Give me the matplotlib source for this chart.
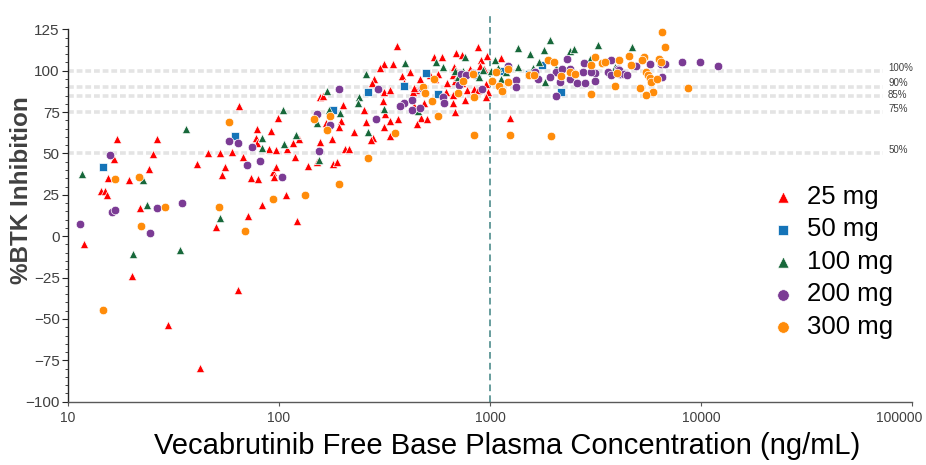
import matplotlib
matplotlib.use("Agg")
import matplotlib.pyplot as plt
from matplotlib.ticker import FixedLocator, FixedFormatter
import matplotlib.transforms as mtransforms

plt.rcParams['font.family'] = ['Liberation Sans', 'DejaVu Sans']

# ---------------- data (concentration ng/mL, %BTK inhibition) ----------------
conc_25 = [17.1, 26.3, 16.6, 25.2, 15.5, 14.3, 15.0, 15.3, 19.5, 24.3, 22.0, 11.9,
           40.8, 46.1, 52.7, 64.4, 59.7, 55.3, 53.9, 67.8, 50.5, 71.1, 83.5, 78.8,
           77.6, 78.8, 91.2, 89.8, 73.5, 79.6, 93.8, 94.4, 20.1, 29.8, 63.7, 42.1,
           122, 108, 119, 124, 116, 109, 97.3, 98.7, 96.6, 137, 152, 157, 157,
           361, 313, 301, 282, 277, 316, 336, 310, 161, 202, 253, 167, 197, 192,
           227, 257, 318, 334, 367, 316, 336, 280, 272, 178, 181, 189, 205, 214,
           877, 543, 591, 689, 733, 902, 963, 1122, 347, 417, 672, 800, 898, 938,
           382, 520, 564, 550, 667, 392, 464, 627, 686, 733, 780, 838, 879, 962,
           977, 952, 445, 430, 437, 617, 668, 665, 764, 487, 435, 686, 469, 500,
           450, 1250]
inh_25 = [58.6, 58.6, 46.9, 49.5, 35.4, 27.1, 27.1, 25.1, 33.8, 40.4, 17.2, -4.5,
          43.4, 50.1, 50.1, 78.5, 51.1, 42.0, 37.0, 47.7, 5.3, 12.0, 19.1, 65.0,
          59.4, 56.3, 63.8, 52.9, 35.4, 34.5, 38.8, 35.8, -24.3, -53.8, -32.8, -79.6,
          9.1, 25.1, 47.9, 58.7, 56.6, 52.5, 52.3, 71.7, 41.8, 42.4, 45.1, 56.9, 84.2,
          115.0, 103.9, 101.7, 94.7, 92.6, 87.2, 88.6, 81.7, 85.0, 79.3, 76.5, 68.4,
          69.6, 66.2, 62.8, 69.3, 73.7, 69.5, 71.1, 66.0, 60.8, 59.4, 58.0, 58.6,
          43.9, 44.6, 52.7, 52.7,
          114.4, 108.4, 108.4, 110.8, 109.4, 106.4, 108.8, 107.4, 103.8, 99.3, 102.3,
          101.1, 102.7, 101.1, 96.7, 97.3, 98.3, 94.7, 97.5, 92.6, 94.7, 92.6, 93.8,
          92.3, 88.2, 89.2, 88.6, 91.8, 87.0, 84.2, 88.2, 87.2, 89.8, 87.2, 85.2,
          80.5, 82.6, 80.5, 78.5, 75.1, 71.7, 70.8, 68.1, 71.7]

conc_50 = [14.6, 61.7, 265, 180, 497, 389, 568, 869, 1770, 1524, 2168, 1151]
inh_50 = [41.6, 60.4, 87.4, 76.1, 98.9, 90.6, 86.0, 97.3, 103.2, 97.9, 87.4, 99.9]

conc_100 = [11.7, 36.3, 22.7, 23.7, 52.3, 82.8, 82.8, 34.0, 20.4, 121, 106, 105,
            151, 155, 258, 168, 239, 237, 173, 195, 316, 265, 394, 553, 599, 684,
            741, 760, 929, 1012, 1057, 1094, 1191, 702, 890, 456, 1352, 1552, 1914,
            1800, 2381, 2513, 3236, 1698, 2061, 1592, 1828, 2964, 1352, 2529, 4732,
            1122, 3926]
inh_100 = [37.8, 64.6, 33.8, 18.6, 11.0, 59.4, 53.5, -8.6, -11.0, 61.4, 55.5, 76.3,
           68.4, 46.3, 97.9, 87.6, 84.2, 80.5, 76.5, 74.7, 76.7, 62.8, 104.4, 105.3,
           102.3, 99.7, 99.9, 108.0, 100.3, 99.7, 106.4, 101.7, 99.3, 96.3, 96.3, 75.5,
           114.0, 110.4, 118.5, 112.4, 112.1, 113.0, 115.6, 105.0, 101.7, 101.7, 93.2,
           107.0, 102.3, 98.7, 114.4, 94.7, 102.3]

conc_200 = [15.8, 16.1, 16.7, 11.4, 26.3, 34.8, 24.5, 58.2, 64.2, 74.8, 70.3, 81.7,
            103, 151, 155, 193, 293, 174, 289, 728, 769, 828, 1213, 714, 912, 475,
            600, 607, 425, 392, 375, 425, 467, 2328, 2786, 3724, 2046, 2188, 1928,
            2138, 2388, 2588, 2818, 1684, 1633, 3148, 3148, 2065, 1334, 1334, 2382,
            2754, 3020, 3622, 3725, 4042, 4115, 4898, 5710, 6485, 6776, 8147, 9862,
            12080, 4074, 4318, 4478, 6560]
inh_200 = [49.3, 14.6, 15.6, 7.1, 17.2, 19.8, 1.9, 57.8, 56.3, 53.7, 43.3, 45.3,
           36.0, 73.9, 51.3, 89.2, 89.2, 67.5, 70.8, 98.3, 97.7, 98.7, 102.9, 91.2,
           88.8, 89.8, 84.2, 80.2, 82.6, 80.2, 78.5, 76.1, 77.7, 107.0, 104.4, 106.4,
           99.3, 101.3, 96.3, 93.2, 94.7, 92.3, 92.3, 94.7, 99.3, 98.7, 93.8, 84.8,
           94.3, 90.2, 101.3, 99.3, 99.3, 99.3, 97.3, 101.3, 98.3, 102.7, 103.9, 103.9,
           103.9, 105.1, 105.1, 102.7, 100.7, 98.3, 97.3, 95.9]

conc_300 = [16.7, 21.7, 28.9, 22.1, 52.1, 58.2, 69.3, 93.8, 14.6, 133, 146, 174,
            169, 263, 356, 192, 540, 741, 828, 1069, 1222, 1026, 1107, 837, 482,
            493, 703, 528, 565, 842, 1245, 1950, 1880, 2009, 2384, 2160, 2535, 3020,
            3155, 3404, 3492, 4102, 3893, 3020, 1538, 1615, 1222, 6561, 6730, 4540,
            5348, 5272, 4637, 6323, 6486, 4008, 5508, 5611, 5714, 5781, 6197, 5117,
            5929, 5508, 8690, 1143]
inh_300 = [34.4, 36.0, 17.4, 5.9, 17.4, 69.3, 2.9, 22.7, -44.5, 24.7, 70.8, 72.9,
           64.2, 47.5, 62.4, 31.5, 94.7, 93.8, 98.3, 99.3, 92.9, 93.8, 90.6, 84.2,
           90.2, 86.6, 86.6, 82.0, 72.9, 61.2, 61.4, 60.6, 106.4, 105.3, 99.3, 96.9,
           98.3, 103.3, 108.2, 104.4, 105.0, 106.2, 90.8, 86.2, 97.3, 97.7, 101.3,
           123.1, 114.4, 109.0, 108.0, 106.4, 103.3, 106.8, 105.0, 98.7, 99.3, 97.3,
           95.3, 93.2, 94.9, 89.6, 87.2, 85.2, 89.8, 87.8]

series_labels = ['25 mg', '50 mg', '100 mg', '200 mg', '300 mg']
series_colors = ['#ff0000', '#1574b8', '#17683a', '#7b3b94', '#ff8c0a']
series_markers = ['^', 's', '^', 'o', 'o']

ref_levels = [100, 90, 85, 75, 50]
ref_labels = ['100%', '90%', '85%', '75%', '50%']
ref_label_y = [101.8, 92.5, 85.3, 76.7, 51.8]

x_ticks = [10, 100, 1000, 10000, 100000]
x_ticklabels = ['10', '100', '1000', '10000', '100000']
y_ticks = [-100, -75, -50, -25, 0, 25, 50, 75, 100, 125]
y_minor_ticks = list(range(-100, 126, 5))

# ---------------- figure ----------------
fig = plt.figure(figsize=(9.26, 4.65), dpi=100)
ax = fig.add_axes([0.0734, 0.1361, 0.9116, 0.8364])

ax.set_xscale('log')
ax.set_xlim(10, 100000)
ax.set_ylim(-100, 135)

# reference lines
for lv in ref_levels:
    ax.axhline(lv, xmin=0, xmax=0.966, color='#e4e4e4', lw=2.6,
               dashes=(1.6, 0.8), zorder=1)
trans = mtransforms.blended_transform_factory(ax.transAxes, ax.transData)
for lab, yy in zip(ref_labels, ref_label_y):
    ax.text(0.9715, yy, lab, transform=trans, fontsize=7, color='#404040',
            ha='left', va='center')

# vertical line at 1000
ax.axvline(1000, color='#4d8c8c', lw=1.2, ls=(0, (4, 2.5)), zorder=2)

xs = [conc_25, conc_50, conc_100, conc_200, conc_300]
ys = [inh_25, inh_50, inh_100, inh_200, inh_300]
sizes = [36, 30, 36, 38, 38]
handles = []
for x, y, lab, col, mk, s in zip(xs, ys, series_labels, series_colors, series_markers, sizes):
    h = ax.scatter(x, y, s=s, marker=mk, color=col, edgecolors='#ffffff',
                   linewidths=0.5, label=lab, zorder=3)
    handles.append(h)

# spines & ticks
for sp in ['top', 'right']:
    ax.spines[sp].set_visible(False)
ax.spines['left'].set_bounds(-100, 125)
ax.spines['left'].set_color('#262626')
ax.spines['bottom'].set_color('#595959')
ax.spines['left'].set_linewidth(1.0)
ax.spines['bottom'].set_linewidth(1.0)

ax.yaxis.set_major_locator(FixedLocator(y_ticks))
ax.yaxis.set_minor_locator(FixedLocator(y_minor_ticks))
ax.tick_params(axis='y', which='major', length=4, width=0.8, color='#262626',
               labelsize=11, labelcolor='#404040', pad=2)
ax.tick_params(axis='y', which='minor', length=2, width=0.6, color='#262626')

ax.xaxis.set_major_locator(FixedLocator(x_ticks))
ax.xaxis.set_major_formatter(FixedFormatter(x_ticklabels))
ax.xaxis.set_minor_locator(FixedLocator([]))
ax.tick_params(axis='x', which='major', length=3, width=0.8, color='#595959',
               labelsize=10, labelcolor='#404040', pad=4)

# shift the last x tick label left so it stays inside the figure
fig.canvas.draw()
last_lbl = ax.get_xticklabels()[-1]
last_lbl.set_transform(last_lbl.get_transform() +
                       mtransforms.ScaledTranslation(-13 / 100, 0, fig.dpi_scale_trans))

fig.text(507 / 926, 1 - 446 / 465, 'Vecabrutinib Free Base Plasma Concentration (ng/mL)',
         fontsize=21, color='#000000', ha='center', va='center')
fig.text(22 / 926, 1 - 190 / 465, '%BTK Inhibition', rotation=90, fontsize=17.5,
         fontweight='bold', color='#404040', ha='center', va='center')

leg = fig.legend(handles=handles, labels=series_labels, loc='upper left',
                 bbox_to_anchor=(768 / 926, 1 - 185 / 465), frameon=False,
                 fontsize=18.5, labelspacing=0.33, handletextpad=0.3,
                 handlelength=1.2, markerscale=1.35, borderpad=0, borderaxespad=0)

fig.savefig('out.png', dpi=100)
